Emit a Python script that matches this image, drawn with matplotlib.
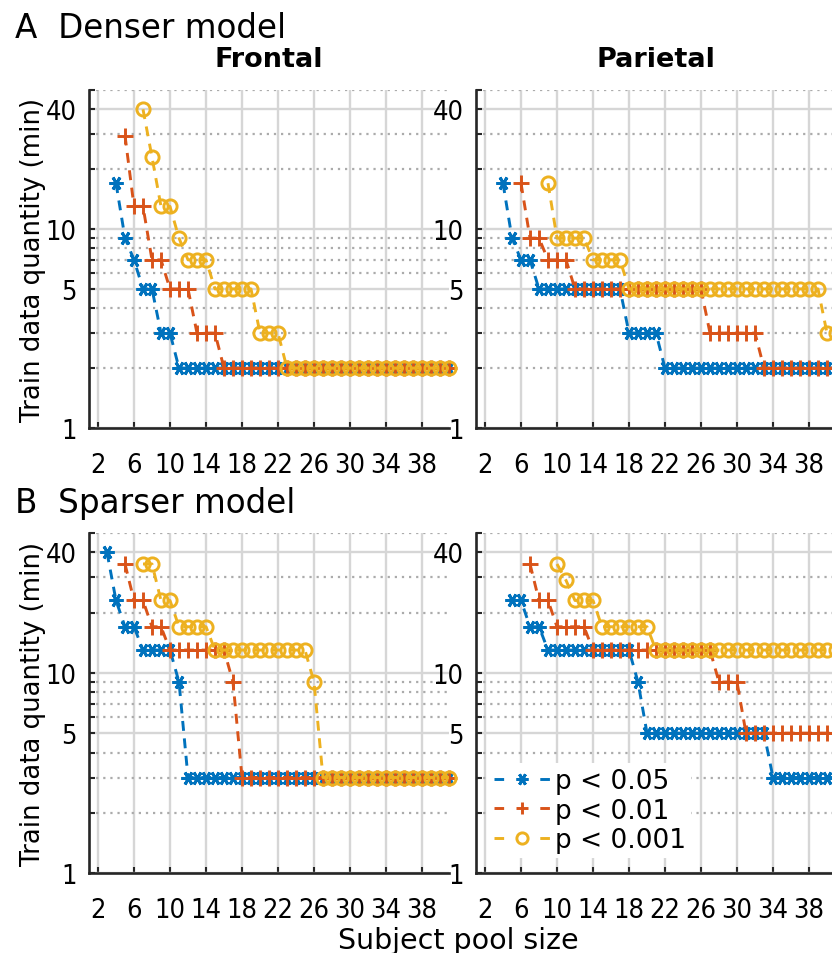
import numpy as np
import matplotlib
matplotlib.use("Agg")
import matplotlib.pyplot as plt
from matplotlib.lines import Line2D

# ---------------- data (run-length: level values and how many pool sizes each lasts) -------------
pool_max = 41
x_ticks = [2, 6, 10, 14, 18, 22, 26, 30, 34, 38]
y_major = [1, 5, 10, 40]
y_minor = [2, 3, 4, 6, 7, 8, 9, 20, 30, 50]
labels = ["p < 0.05", "p < 0.01", "p < 0.001"]

# Denser model, Frontal
dF_p05_start, dF_p05_vals, dF_p05_runs = 4, [17, 9, 7, 5, 3, 2], [1, 1, 1, 2, 2, 31]
dF_p01_start, dF_p01_vals, dF_p01_runs = 5, [29.5, 13, 7, 5, 3, 2], [1, 2, 2, 3, 3, 26]
dF_p001_start, dF_p001_vals, dF_p001_runs = 7, [40, 23, 13, 9, 7, 5, 3, 2], [1, 1, 2, 1, 3, 5, 3, 19]
# Denser model, Parietal
dP_p05_start, dP_p05_vals, dP_p05_runs = 4, [17, 9, 7, 5, 3, 2], [1, 1, 2, 10, 4, 20]
dP_p01_start, dP_p01_vals, dP_p01_runs = 6, [17, 9, 7, 5, 3, 2], [1, 2, 3, 15, 6, 9]
dP_p001_start, dP_p001_vals, dP_p001_runs = 9, [17, 9, 7, 5, 3], [1, 4, 4, 22, 2]
# Sparser model, Frontal
sF_p05_start, sF_p05_vals, sF_p05_runs = 3, [40, 23, 17, 13, 9, 3], [1, 1, 2, 4, 1, 30]
sF_p01_start, sF_p01_vals, sF_p01_runs = 5, [35, 23, 17, 13, 9, 3], [1, 2, 2, 7, 1, 24]
sF_p001_start, sF_p001_vals, sF_p001_runs = 7, [35, 23, 17, 13, 9, 3], [2, 2, 4, 11, 1, 15]
# Sparser model, Parietal
sP_p05_start, sP_p05_vals, sP_p05_runs = 5, [23, 17, 13, 9, 5, 3], [2, 2, 10, 1, 14, 8]
sP_p01_start, sP_p01_vals, sP_p01_runs = 7, [35, 23, 17, 13, 9, 5], [1, 2, 4, 14, 3, 11]
sP_p001_start, sP_p001_vals, sP_p001_runs = 10, [35, 29, 23, 17, 13], [1, 1, 3, 6, 21]

panels = [
    ("Frontal", [(dF_p05_start, dF_p05_vals, dF_p05_runs), (dF_p01_start, dF_p01_vals, dF_p01_runs), (dF_p001_start, dF_p001_vals, dF_p001_runs)]),
    ("Parietal", [(dP_p05_start, dP_p05_vals, dP_p05_runs), (dP_p01_start, dP_p01_vals, dP_p01_runs), (dP_p001_start, dP_p001_vals, dP_p001_runs)]),
    (None, [(sF_p05_start, sF_p05_vals, sF_p05_runs), (sF_p01_start, sF_p01_vals, sF_p01_runs), (sF_p001_start, sF_p001_vals, sF_p001_runs)]),
    (None, [(sP_p05_start, sP_p05_vals, sP_p05_runs), (sP_p01_start, sP_p01_vals, sP_p01_runs), (sP_p001_start, sP_p001_vals, sP_p001_runs)]),
]

colors = ["#0072BD", "#D95319", "#EDB120"]
markers = [(6, 2, 90), "+", "o"]
msizes = [10, 11, 9.5]
LW = 2.1

W, H = 832, 954
fig = plt.figure(figsize=(W / 100, H / 100), dpi=100)
plt.rcParams["font.family"] = ["DejaVu Sans"]

def px_axes(x0, y_top, w, h):
    return [x0 / W, 1 - (y_top + h) / H, w / W, h / H]

positions = [px_axes(89, 91, 360, 338), px_axes(476, 91, 360, 338),
             px_axes(89, 534, 360, 340), px_axes(476, 534, 360, 340)]

tick_font = dict(size=19.5, stretch="condensed")

for i, (pos, (title, series)) in enumerate(zip(positions, panels)):
    ax = fig.add_axes(pos)
    ax.set_yscale("log")
    for k, (start, vals, runs) in enumerate(series):
        y = np.repeat(vals, runs)
        x = np.arange(start, start + len(y))
        ax.plot(x, y, color=colors[k], lw=LW, ls=(0, (3.4, 2.6)),
                marker=markers[k], ms=msizes[k], mew=LW,
                mfc="none", clip_on=False, zorder=3 + k)
    ax.set_xlim(1, pool_max)
    ax.set_ylim(1, 50)
    ax.set_xticks(x_ticks)
    ax.set_xticklabels([str(t) for t in x_ticks], fontdict=tick_font)
    ax.set_yticks(y_major)
    ax.set_yticklabels([str(t) for t in y_major], fontdict=tick_font)
    ax.set_yticks(y_minor, minor=True)
    ax.yaxis.set_minor_formatter(matplotlib.ticker.NullFormatter())
    ax.grid(which="major", color="#d6d6d6", lw=1.7, ls="-")
    ax.grid(which="minor", axis="y", color="#ababab", lw=1.6, ls=(0, (1, 2.2)))
    ax.set_axisbelow(True)
    for s in ["top", "right"]:
        ax.spines[s].set_visible(False)
    for s in ["left", "bottom"]:
        ax.spines[s].set_linewidth(1.9)
        ax.spines[s].set_color("#262626")
        ax.spines[s].set_zorder(10)
    ax.tick_params(which="both", direction="in", length=4.5, width=1.5, color="#262626")
    ax.tick_params(axis="x", pad=17)
    ax.tick_params(axis="y", pad=9)
    if title:
        fig.text((pos[0] + pos[2] / 2), 1 - 67 / H, title, ha="center", va="baseline",
                 fontsize=19.5, fontweight="bold")
    if i == 3:
        handles = [Line2D([], [], color=colors[k], lw=LW, ls=(0, (3.3, 12.4)),
                          marker=markers[k], ms=msizes[k] * 0.85, mew=LW, mfc="none")
                   for k in range(3)]
        leg = ax.legend(handles, labels, loc="upper left", bbox_to_anchor=(0.035, 0.323),
                        fontsize=19, frameon=True, facecolor="white", edgecolor="none",
                        framealpha=1, fancybox=False, handlelength=2.15, handletextpad=0.15,
                        labelspacing=0.12, borderpad=0.2, borderaxespad=0, numpoints=1)
        leg.set_zorder(20)

fig.text(15 / W, 1 - 38 / H, "A  Denser model", fontsize=23.5, ha="left", va="baseline")
fig.text(15 / W, 1 - 513 / H, "B  Sparser model", fontsize=23.5, ha="left", va="baseline")
fig.text(33 / W, 1 - 260 / H, "Train data quantity (min)", rotation=90, ha="center", va="center", fontsize=18.7)
fig.text(33 / W, 1 - 704 / H, "Train data quantity (min)", rotation=90, ha="center", va="center", fontsize=18.7)
fig.text(458 / W, 1 - 941 / H, "Subject pool size", ha="center", va="center", fontsize=20.5)

fig.savefig("out.png", dpi=100)
